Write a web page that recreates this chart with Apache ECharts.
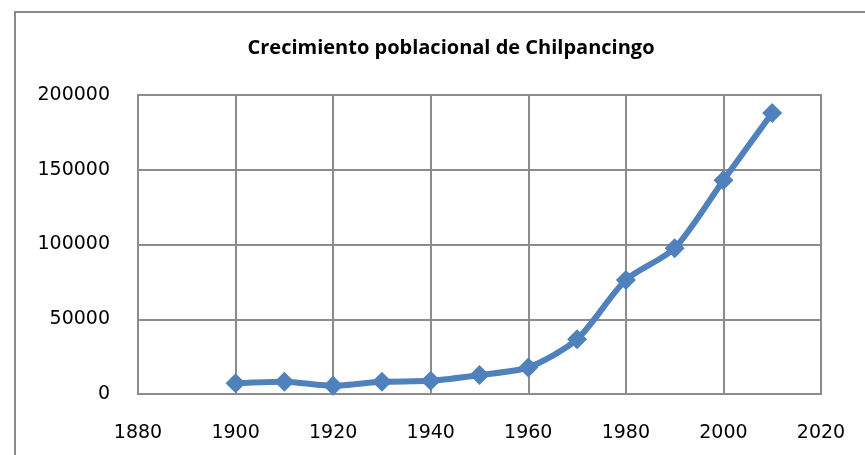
<!DOCTYPE html>
<html>
<head>
<meta charset="utf-8">
<script src="https://cdn.jsdelivr.net/npm/echarts@6/dist/echarts.min.js"></script>
<style>
html,body{margin:0;padding:0;background:#fff;}
#c{width:865px;height:455px;}
</style>
</head>
<body>
<div id="c"></div>
<script>
const titleText = 'Crecimiento poblacional de Chilpancingo';
const years = [1900, 1910, 1920, 1930, 1940, 1950, 1960, 1970, 1980, 1990, 2000, 2010];
const population = [7200, 8200, 5500, 8200, 8800, 12700, 17800, 36600, 76300, 97500, 143000, 188000];

const chart = echarts.init(document.getElementById('c'));
chart.setOption({
  backgroundColor: '#ffffff',
  animation: false,
  title: {
    text: titleText,
    left: 446,
    textAlign: 'center',
    top: 33,
    textStyle: { fontFamily: 'Open Sans', fontWeight: 'bold', fontSize: 20, color: '#000' }
  },
  graphic: [{
    type: 'rect',
    shape: { x: 15, y: 12, width: 900, height: 500 },
    style: { fill: 'none', stroke: '#8a8a8a', lineWidth: 2 },
    silent: true
  }],
  grid: { left: 138, right: 44, top: 95, bottom: 61, show: true, borderColor: '#8c8c8c', borderWidth: 2 },
  xAxis: {
    type: 'value', min: 1880, max: 2020, interval: 20,
    axisLine: { show: true, lineStyle: { color: '#8c8c8c', width: 2 } },
    axisTick: { show: false },
    splitLine: { show: true, lineStyle: { color: '#8c8c8c', width: 2 } },
    axisLabel: { fontFamily: 'DejaVu Sans', fontSize: 19, color: '#000', margin: 30, formatter: v => String(v) }
  },
  yAxis: {
    type: 'value', min: 0, max: 200000, interval: 50000,
    axisLine: { show: true, lineStyle: { color: '#8c8c8c', width: 2 } },
    axisTick: { show: false },
    splitLine: { show: true, lineStyle: { color: '#8c8c8c', width: 2 } },
    axisLabel: { fontFamily: 'DejaVu Sans', fontSize: 19, color: '#000', margin: 28, formatter: v => String(v) }
  },
  series: [{
    type: 'line',
    data: years.map((y, i) => [y, population[i]]),
    smooth: 0.25,
    symbol: 'diamond',
    symbolSize: 20,
    lineStyle: { color: '#4F81BD', width: 6 },
    itemStyle: { color: '#4F81BD' }
  }]
});
</script>
</body>
</html>
